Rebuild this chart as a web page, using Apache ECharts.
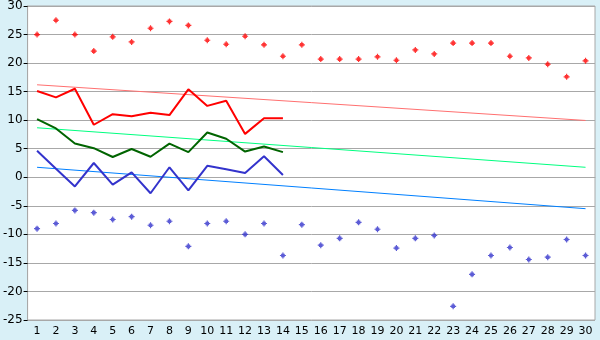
<!DOCTYPE html>
<html><head><meta charset="utf-8">
<script src="https://cdn.jsdelivr.net/npm/echarts@6/dist/echarts.min.js"></script>
<style>html,body{margin:0;padding:0;background:#d9f0f7;}#c{width:600px;height:340px;}</style>
</head><body><div id="c"></div>
<script>
var days = [];
for (var i = 1; i <= 30; i++) days.push(String(i));
var maxPoints = [25, 27.5, 25, 22.1, 24.6, 23.7, 26.1, 27.3, 26.6, 24.0, 23.3, 24.7, 23.2, 21.2, 23.2, 20.7, 20.7, 20.7, 21.1, 20.5, 22.3, 21.6, 23.5, 23.5, 23.5, 21.2, 20.9, 19.8, 17.6, 20.4];
var minPoints = [-9.0, -8.1, -5.8, -6.2, -7.4, -6.9, -8.4, -7.7, -12.1, -8.1, -7.7, -10.0, -8.1, -13.7, -8.3, -11.9, -10.7, -7.9, -9.1, -12.4, -10.7, -10.2, -22.6, -17.0, -13.7, -12.3, -14.4, -14.0, -10.9, -13.7];
var redLine = [15.1, 14.0, 15.5, 9.2, 11.05, 10.7, 11.3, 10.9, 15.4, 12.5, 13.4, 7.6, 10.35, 10.35];
var greenLine = [10.2, 8.55, 5.9, 5.1, 3.55, 4.95, 3.6, 5.9, 4.4, 7.85, 6.75, 4.5, 5.4, 4.4];
var blueLine = [4.65, 1.5, -1.6, 2.5, -1.3, 0.87, -2.8, 1.75, -2.3, 2.0, 1.4, 0.75, 3.67, 0.4];
var redTrend = [16.2, 9.95];
var greenTrend = [8.67, 1.75];
var blueTrend = [1.75, -5.5];
var yMin = -25, yMax = 30, yStep = 5;

function ends(t) { return [[0, t[0]], [days.length - 1, t[1]]]; }
var marker = 'path://M2,0H3V1H4V2H5V3H4V4H3V5H2V4H1V3H0V2H1V1H2Z';
var font = 'DejaVu Sans';

var chart = echarts.init(document.getElementById('c'), null, {renderer: 'canvas'});
chart.setOption({
  backgroundColor: '#d9f0f7',
  animation: false,
  grid: {left: 26, right: 5, top: 5, bottom: 20, show: true, backgroundColor: '#ffffff', borderColor: '#a8a8a8', borderWidth: 1},
  xAxis: {
    type: 'category', data: days, boundaryGap: true,
    axisLine: {lineStyle: {color: '#a8a8a8', width: 1}},
    axisTick: {alignWithLabel: true, length: 5, lineStyle: {color: '#000'}},
    axisLabel: {color: '#000', fontFamily: font, fontSize: 11, margin: 6, interval: 0},
    splitLine: {show: false}
  },
  yAxis: {
    type: 'value', min: yMin, max: yMax, interval: yStep,
    axisLine: {show: true, lineStyle: {color: '#a8a8a8'}},
    axisTick: {show: true, length: 4, lineStyle: {color: '#000'}},
    axisLabel: {color: '#000', fontFamily: font, fontSize: 12, margin: 5},
    splitLine: {lineStyle: {color: '#a8a8a8', width: 1}}
  },
  series: [
    {type: 'line', data: ends(redTrend), symbol: 'none', lineStyle: {color: '#ff7070', width: 1}, z: 2},
    {type: 'line', data: ends(greenTrend), symbol: 'none', lineStyle: {color: '#00ff80', width: 1}, z: 2},
    {type: 'line', data: ends(blueTrend), symbol: 'none', lineStyle: {color: '#0080ff', width: 1}, z: 2},
    {type: 'line', data: redLine, symbol: 'none', lineStyle: {color: '#ff0000', width: 2}, z: 3},
    {type: 'line', data: greenLine, symbol: 'none', lineStyle: {color: '#006400', width: 2}, z: 3},
    {type: 'line', data: blueLine, symbol: 'none', lineStyle: {color: '#3333cc', width: 2}, z: 3},
    {type: 'scatter', data: maxPoints, symbol: marker, symbolSize: 6, itemStyle: {color: '#ff0000'}, z: 4},
    {type: 'scatter', data: minPoints, symbol: marker, symbolSize: 6, itemStyle: {color: '#3333cc'}, z: 4}
  ]
});
</script></body></html>
